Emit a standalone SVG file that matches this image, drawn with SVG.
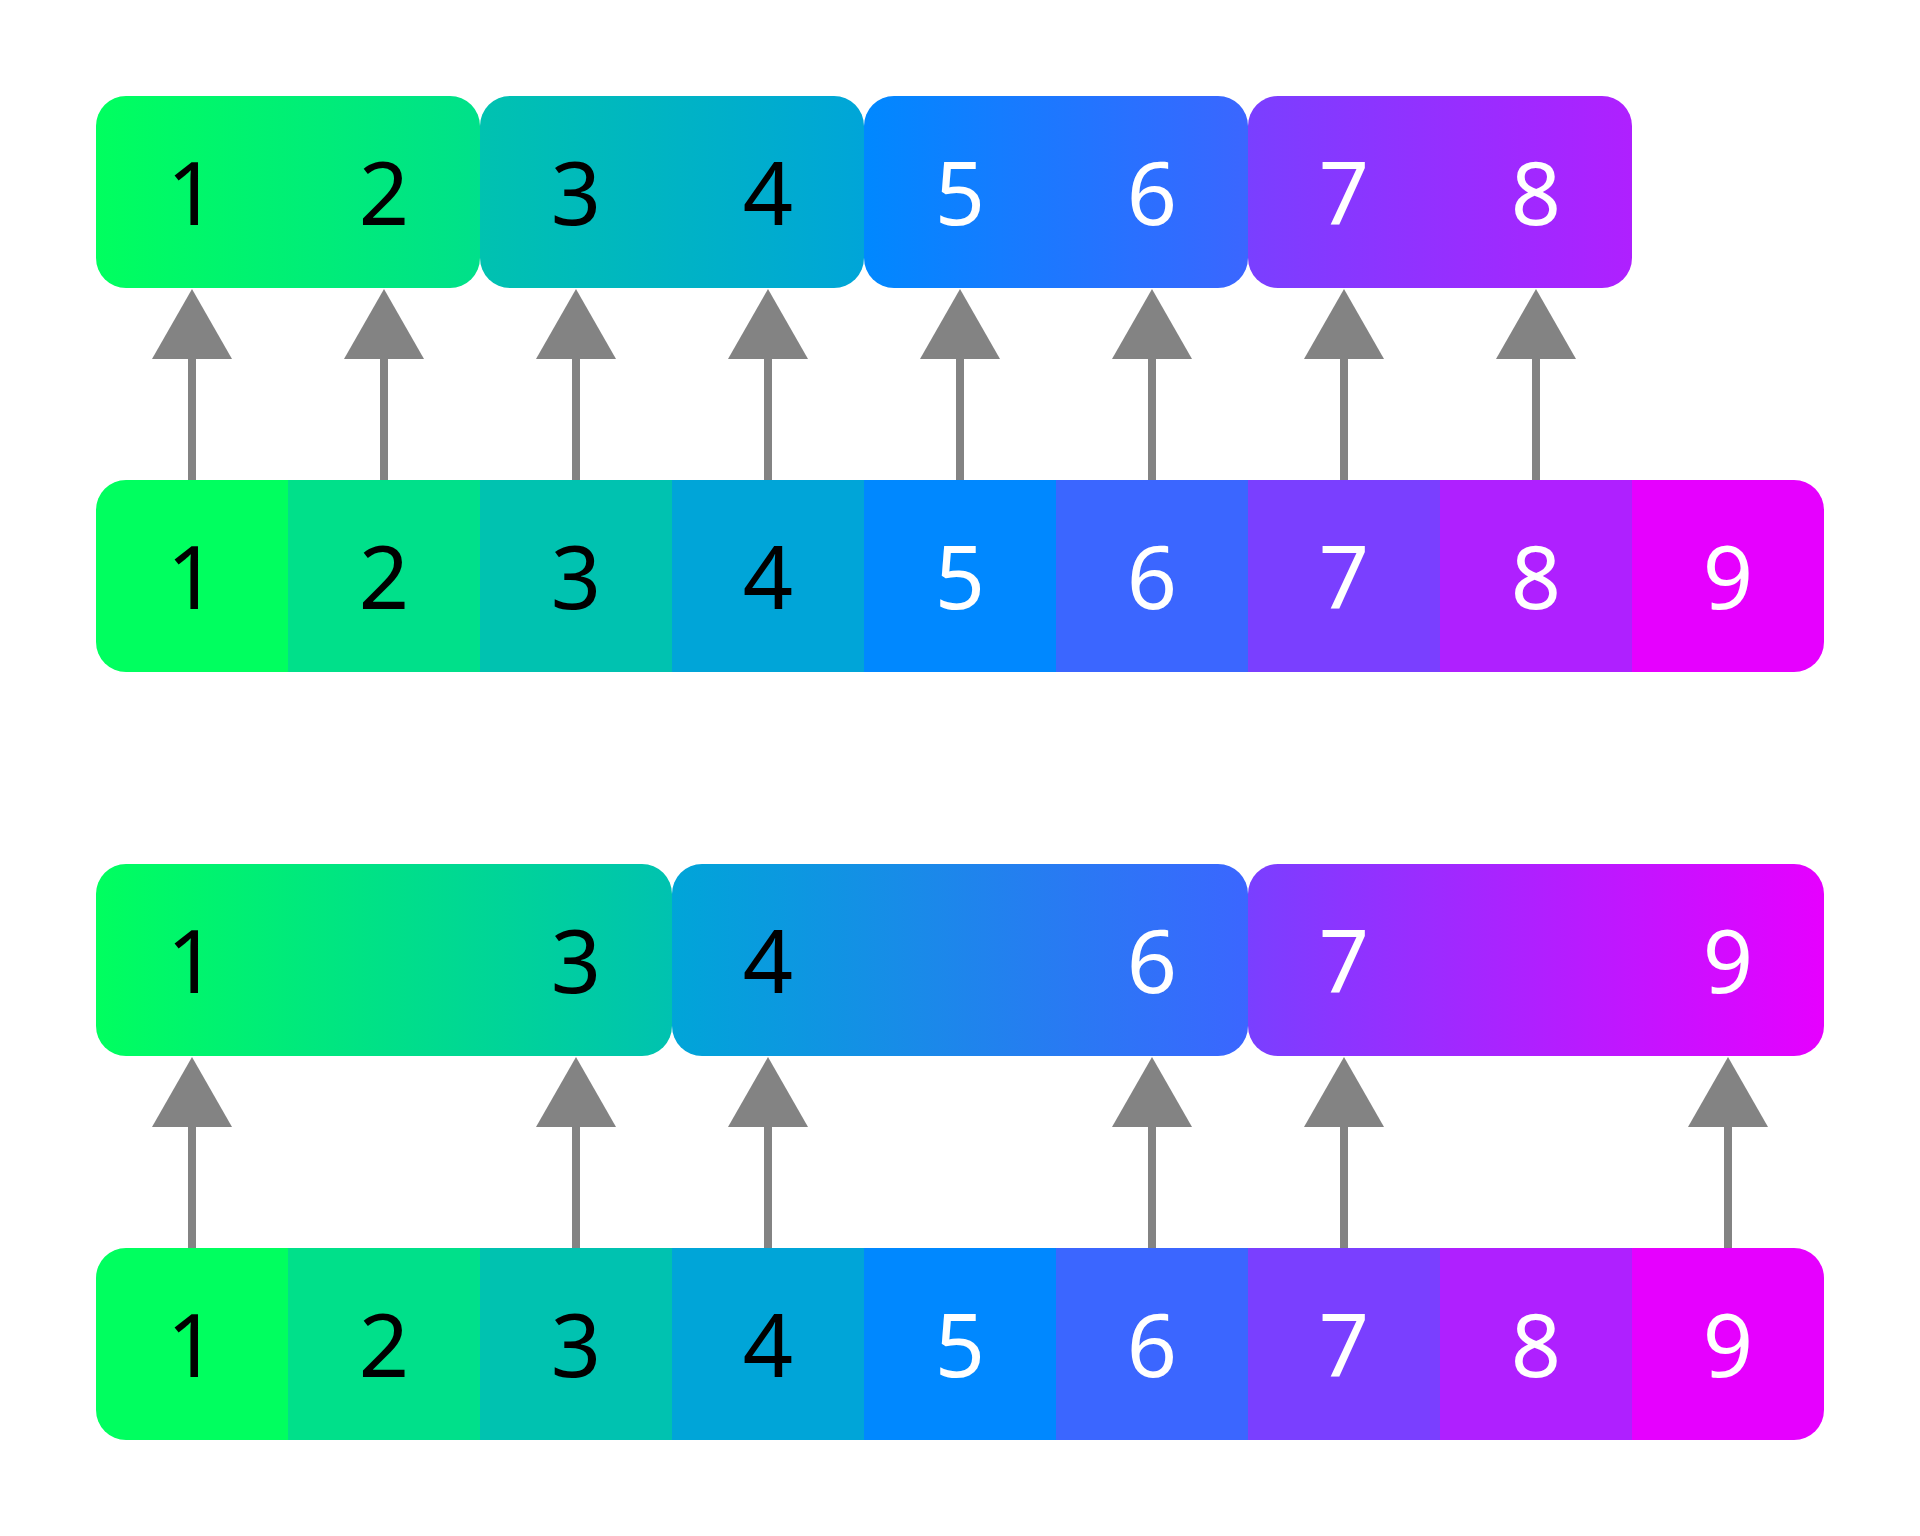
<svg xmlns="http://www.w3.org/2000/svg" width="1920" height="1536" viewBox="0 0 1920 1536">
<style>
  .num { font-family: "Noto Sans", "Open Sans", "DejaVu Sans", sans-serif; font-size: 88px; text-anchor: middle; }
  .dk { fill: #000000; }
  .lt { fill: #FFFFFF; }
  .conn line { stroke: #838383; stroke-width: 8; }
</style>
<defs>
  <marker id="tri" viewBox="0 -40 70 80" refX="1" refY="0" markerWidth="70" markerHeight="80" markerUnits="userSpaceOnUse" orient="auto">
    <path d="M0,-40 L70,0 L0,40 Z" fill="#838383"/>
  </marker>
  <linearGradient id="gA" x1="0" y1="0" x2="1" y2="0"><stop offset="0" stop-color="#00FF5F"/><stop offset="1" stop-color="#00E08A"/></linearGradient>
  <linearGradient id="gB" x1="0" y1="0" x2="1" y2="0"><stop offset="0" stop-color="#00C2B0"/><stop offset="1" stop-color="#00A5D8"/></linearGradient>
  <linearGradient id="gC" x1="0" y1="0" x2="1" y2="0"><stop offset="0" stop-color="#0088FF"/><stop offset="1" stop-color="#3B66FF"/></linearGradient>
  <linearGradient id="gD" x1="0" y1="0" x2="1" y2="0"><stop offset="0" stop-color="#7A3FFF"/><stop offset="1" stop-color="#AF20FF"/></linearGradient>
  <linearGradient id="gE" x1="0" y1="0" x2="1" y2="0"><stop offset="0" stop-color="#00FF5F"/><stop offset="1" stop-color="#00C2B0"/></linearGradient>
  <linearGradient id="gF" x1="0" y1="0" x2="1" y2="0"><stop offset="0" stop-color="#00A5D8"/><stop offset="1" stop-color="#3B66FF"/></linearGradient>
  <linearGradient id="gG" x1="0" y1="0" x2="1" y2="0"><stop offset="0" stop-color="#7A3FFF"/><stop offset="1" stop-color="#E600FF"/></linearGradient>
</defs>
<rect width="1920" height="1536" fill="#FFFFFF"/>

<!-- Row 1: pairs -->
<g id="r1-b12"><rect x="96" y="96" width="384" height="192" rx="30" fill="url(#gA)"/><text class="num dk" x="192" y="225">1</text><text class="num dk" x="384" y="225">2</text></g>
<g id="r1-b34"><rect x="480" y="96" width="384" height="192" rx="30" fill="url(#gB)"/><text class="num dk" x="576" y="225">3</text><text class="num dk" x="768" y="225">4</text></g>
<g id="r1-b56"><rect x="864" y="96" width="384" height="192" rx="30" fill="url(#gC)"/><text class="num lt" x="960" y="225">5</text><text class="num lt" x="1152" y="225">6</text></g>
<g id="r1-b78"><rect x="1248" y="96" width="384" height="192" rx="30" fill="url(#gD)"/><text class="num lt" x="1344" y="225">7</text><text class="num lt" x="1536" y="225">8</text></g>

<!-- Row 2: cells -->
<g id="r2-c1"><path d="M126,480 H288 V672 H126 A30,30 0 0 1 96,642 V510 A30,30 0 0 1 126,480 Z" fill="#00FF5F"/><text class="num dk" x="192" y="609">1</text></g>
<g id="r2-c2"><rect x="288" y="480" width="192" height="192" fill="#00E08A"/><text class="num dk" x="384" y="609">2</text></g>
<g id="r2-c3"><rect x="480" y="480" width="192" height="192" fill="#00C2B0"/><text class="num dk" x="576" y="609">3</text></g>
<g id="r2-c4"><rect x="672" y="480" width="192" height="192" fill="#00A5D8"/><text class="num dk" x="768" y="609">4</text></g>
<g id="r2-c5"><rect x="864" y="480" width="192" height="192" fill="#0088FF"/><text class="num lt" x="960" y="609">5</text></g>
<g id="r2-c6"><rect x="1056" y="480" width="192" height="192" fill="#3B66FF"/><text class="num lt" x="1152" y="609">6</text></g>
<g id="r2-c7"><rect x="1248" y="480" width="192" height="192" fill="#7A3FFF"/><text class="num lt" x="1344" y="609">7</text></g>
<g id="r2-c8"><rect x="1440" y="480" width="192" height="192" fill="#AF20FF"/><text class="num lt" x="1536" y="609">8</text></g>
<g id="r2-c9"><path d="M1632,480 H1794 A30,30 0 0 1 1824,510 V642 A30,30 0 0 1 1794,672 H1632 Z" fill="#E600FF"/><text class="num lt" x="1728" y="609">9</text></g>

<!-- Row 3: triples -->
<g id="r3-b13"><rect x="96" y="864" width="576" height="192" rx="30" fill="url(#gE)"/><text class="num dk" x="192" y="993">1</text><text class="num dk" x="576" y="993">3</text></g>
<g id="r3-b46"><rect x="672" y="864" width="576" height="192" rx="30" fill="url(#gF)"/><text class="num dk" x="768" y="993">4</text><text class="num lt" x="1152" y="993">6</text></g>
<g id="r3-b79"><rect x="1248" y="864" width="576" height="192" rx="30" fill="url(#gG)"/><text class="num lt" x="1344" y="993">7</text><text class="num lt" x="1728" y="993">9</text></g>

<!-- Row 4: cells -->
<g id="r4-c1"><path d="M126,1248 H288 V1440 H126 A30,30 0 0 1 96,1410 V1278 A30,30 0 0 1 126,1248 Z" fill="#00FF5F"/><text class="num dk" x="192" y="1377">1</text></g>
<g id="r4-c2"><rect x="288" y="1248" width="192" height="192" fill="#00E08A"/><text class="num dk" x="384" y="1377">2</text></g>
<g id="r4-c3"><rect x="480" y="1248" width="192" height="192" fill="#00C2B0"/><text class="num dk" x="576" y="1377">3</text></g>
<g id="r4-c4"><rect x="672" y="1248" width="192" height="192" fill="#00A5D8"/><text class="num dk" x="768" y="1377">4</text></g>
<g id="r4-c5"><rect x="864" y="1248" width="192" height="192" fill="#0088FF"/><text class="num lt" x="960" y="1377">5</text></g>
<g id="r4-c6"><rect x="1056" y="1248" width="192" height="192" fill="#3B66FF"/><text class="num lt" x="1152" y="1377">6</text></g>
<g id="r4-c7"><rect x="1248" y="1248" width="192" height="192" fill="#7A3FFF"/><text class="num lt" x="1344" y="1377">7</text></g>
<g id="r4-c8"><rect x="1440" y="1248" width="192" height="192" fill="#AF20FF"/><text class="num lt" x="1536" y="1377">8</text></g>
<g id="r4-c9"><path d="M1632,1248 H1794 A30,30 0 0 1 1824,1278 V1410 A30,30 0 0 1 1794,1440 H1632 Z" fill="#E600FF"/><text class="num lt" x="1728" y="1377">9</text></g>

<!-- Connectors -->
<g id="connectors" class="conn">
  <line x1="192" y1="480" x2="192" y2="358" marker-end="url(#tri)"/>
  <line x1="384" y1="480" x2="384" y2="358" marker-end="url(#tri)"/>
  <line x1="576" y1="480" x2="576" y2="358" marker-end="url(#tri)"/>
  <line x1="768" y1="480" x2="768" y2="358" marker-end="url(#tri)"/>
  <line x1="960" y1="480" x2="960" y2="358" marker-end="url(#tri)"/>
  <line x1="1152" y1="480" x2="1152" y2="358" marker-end="url(#tri)"/>
  <line x1="1344" y1="480" x2="1344" y2="358" marker-end="url(#tri)"/>
  <line x1="1536" y1="480" x2="1536" y2="358" marker-end="url(#tri)"/>

  <line x1="192" y1="1248" x2="192" y2="1126" marker-end="url(#tri)"/>
  <line x1="576" y1="1248" x2="576" y2="1126" marker-end="url(#tri)"/>
  <line x1="768" y1="1248" x2="768" y2="1126" marker-end="url(#tri)"/>
  <line x1="1152" y1="1248" x2="1152" y2="1126" marker-end="url(#tri)"/>
  <line x1="1344" y1="1248" x2="1344" y2="1126" marker-end="url(#tri)"/>
  <line x1="1728" y1="1248" x2="1728" y2="1126" marker-end="url(#tri)"/>
</g>
</svg>
